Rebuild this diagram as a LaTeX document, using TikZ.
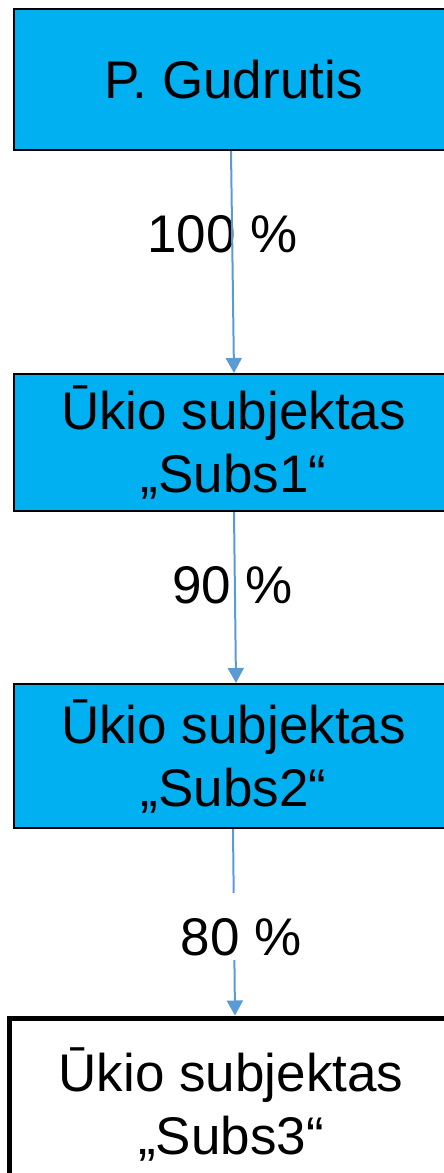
\documentclass[tikz,border=0pt]{standalone}
\usepackage{fontspec}
\setmainfont{Liberation Sans}
\usetikzlibrary{arrows.meta}
\definecolor{boxblue}{HTML}{00B0F0}
\definecolor{arrowblue}{HTML}{5B9BD5}
\begin{document}
\begin{tikzpicture}[x=1pt,y=-1pt,
  bigfont/.style={font=\fontsize{53}{63}\selectfont},
  entity/.style={draw=black,line width=2pt,fill=boxblue,minimum width=439pt,inner sep=0pt,align=center,bigfont},
  finalbox/.style={draw=black,line width=5pt,fill=white,minimum width=444pt,inner sep=0pt,align=center,bigfont},
  share/.style={bigfont,inner sep=0pt,anchor=base},
  link/.style={draw=arrowblue,line width=2pt,-{Triangle[width=16pt,length=15pt]}}]
\useasboundingbox (0,0) rectangle (444,1173);
\node[entity,minimum height=141pt] (top) at (233.5,79.5) {P. Gudrutis};
\node[entity,minimum height=137pt] (s1) at (233.5,442.5) {Ūkio subjektas\\„Subs1“};
\node[entity,minimum height=144pt] (s2) at (233.5,756) {Ūkio subjektas\\„Subs2“};
\node[finalbox,minimum height=173pt] (s3) at (231,1104.5) {Ūkio subjektas\\„Subs3“};
\node[share] (p1) at (222.5,252) {100 \%};
\node[share] (p2) at (232.5,603) {90 \%};
\draw[link] ([xshift=-2.5pt]top.south) -- ([xshift=0.5pt]s1.north);
\draw[link] ([xshift=0.5pt]s1.south) -- ([xshift=2.5pt]s2.north);
\draw[link] ([xshift=-0.5pt]s2.south) -- ([xshift=4pt]s3.north);
\node[share,fill=white,text height=57pt,text depth=0pt,inner ysep=5pt,inner xsep=0pt] (p3) at (241,955) {80 \%};
\end{tikzpicture}
\end{document}
